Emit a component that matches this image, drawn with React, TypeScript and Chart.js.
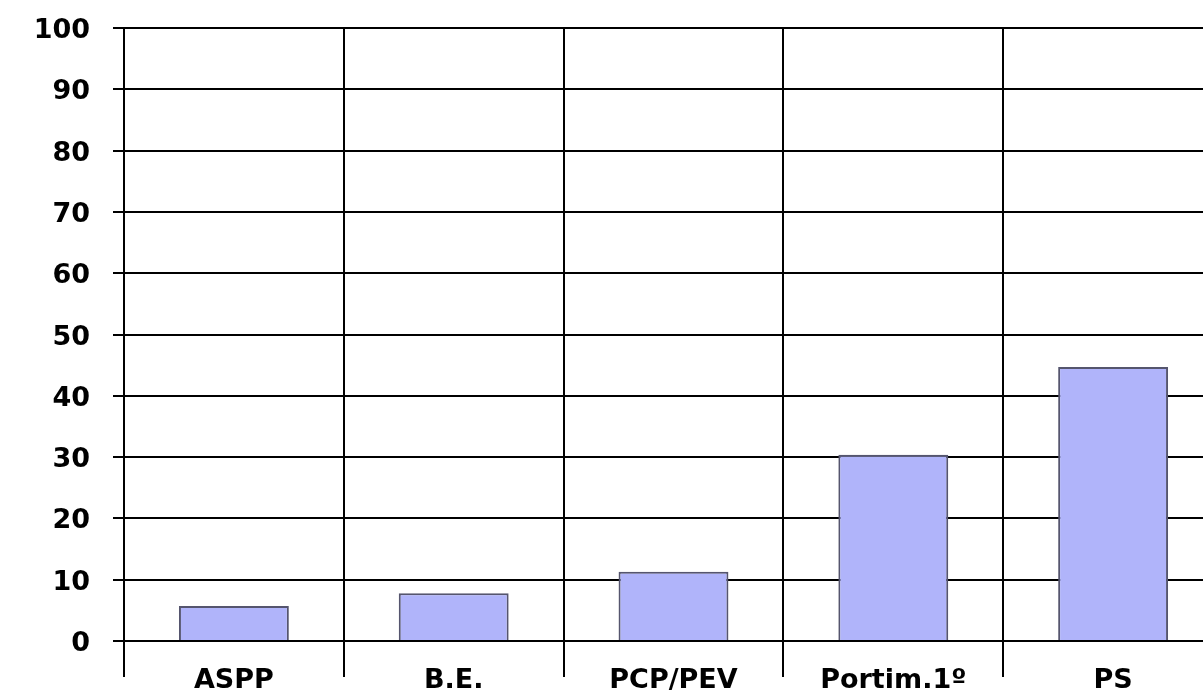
import React, { useEffect, useRef } from "react";
import { Chart, registerables } from "chart.js";

Chart.register(...registerables);

const categories = ["ASPP", "B.E.", "PCP/PEV", "Portim.1º", "PS"];
const values = [5.7, 7.8, 11.3, 30.4, 44.7];
const yMin = 0;
const yMax = 100;
const yStep = 10;

export default function App() {
  const ref = useRef<HTMLCanvasElement | null>(null);
  useEffect(() => {
    document.body.style.margin = "0";
    const ctx = ref.current!;
    const chart = new Chart(ctx, {
      type: "bar",
      data: {
        labels: categories,
        datasets: [
          {
            data: values,
            backgroundColor: "rgb(176,180,250)",
            borderColor: "#55556e",
            borderWidth: 2,
            barPercentage: 0.5,
            categoryPercentage: 1,
          },
        ],
      },
      options: {
        responsive: false,
        animation: false,
        layout: { padding: { top: 28, left: 0, right: 17, bottom: 0 } },
        plugins: { legend: { display: false }, tooltip: { enabled: false } },
        scales: {
          x: {
            grid: {
              offset: true,
              color: "#000",
              lineWidth: 2,
              tickLength: 36,
              drawOnChartArea: true,
            },
            border: { display: true, color: "#000", width: 2 },
            ticks: {
              color: "#000",
              padding: -12,
              font: { family: "DejaVu Sans", weight: "bold", size: 27 },
              maxRotation: 0,
              autoSkip: false,
            },
            afterFit: (s: any) => {
              s.height = 49;
              s.paddingLeft = 0;
              s.paddingRight = 0;
            },
          },
          y: {
            min: yMin,
            max: yMax,
            grid: { color: "#000", lineWidth: 2, tickLength: 11 },
            border: { display: true, color: "#000", width: 2 },
            ticks: {
              stepSize: yStep,
              color: "#000",
              padding: 23,
              labelOffset: 3,
              font: { family: "DejaVu Sans", weight: "bold", size: 27 },
            },
            afterFit: (s: any) => {
              s.width = 124;
              s.paddingTop = 0;
              s.paddingBottom = 0;
            },
          },
        },
      },
    });
    return () => chart.destroy();
  }, []);
  return (
    <div
      style={{
        position: "absolute",
        left: 0,
        top: 0,
        width: 1203,
        height: 690,
        overflow: "hidden",
        background: "#fff",
      }}
    >
      <canvas ref={ref} width={1240} height={690} style={{ display: "block" }} />
    </div>
  );
}
